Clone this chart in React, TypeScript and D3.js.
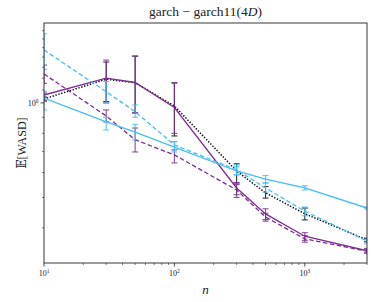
import * as d3 from "d3";

// sample sizes on the x axis
const nVals = [10, 30, 50, 100, 300, 500, 1000, 3000];

// purple solid
const purpleSolid = [1.06, 1.2, 1.162, 0.967, 0.536, 0.443, 0.376, 0.338];
const purpleSolidLo = [1.015, 1.0, 0.93, 0.8, 0.51, 0.425, 0.365, 0.333];
const purpleSolidHi = [1.076, 1.37, 1.41, 1.16, 0.557, 0.46, 0.386, 0.344];

// purple dashed
const purpleDashed = [1.237, 0.909, 0.763, 0.683, 0.528, 0.433, 0.369, 0.337];
const purpleDashedLo = [1.155, 0.87, 0.698, 0.644, 0.5, 0.42, 0.36, 0.332];
const purpleDashedHi = [1.32, 0.95, 0.832, 0.709, 0.55, 0.445, 0.378, 0.342];

// cyan solid
const cyanSolid = [1.037, 0.87, 0.807, 0.723, 0.607, 0.572, 0.536, 0.4625];
const cyanSolidLo = [0.95, 0.82, 0.763, 0.698, 0.59, 0.556, 0.528, 0.459];
const cyanSolidHi = [1.09, 0.9, 0.855, 0.753, 0.627, 0.587, 0.545, 0.466];

// cyan dashed
const cyanDashed = [1.475, 1.086, 0.938, 0.735, 0.612, 0.536, 0.452, 0.363];
const cyanDashedLo = [1.28, 1.0, 0.9, 0.709, 0.59, 0.52, 0.437, 0.356];
const cyanDashedHi = [1.66, 1.17, 0.985, 0.753, 0.635, 0.556, 0.466, 0.368];

// black dotted
const blackDotted = [1.03, 1.19, 1.16, 0.978, 0.607, 0.517, 0.4435, 0.366];
const blackDottedLo = [1.015, 1.01, 0.929, 0.785, 0.556, 0.4975, 0.424, 0.361];
const blackDottedHi = [1.045, 1.35, 1.41, 1.158, 0.64, 0.5417, 0.4625, 0.371];

const xMajor = [10, 100, 1000];
const xMinor = [20, 30, 40, 50, 60, 70, 80, 90, 200, 300, 400, 500, 600, 700, 800, 900, 2000, 3000];
const yMajor = [1];
const yMinor = [0.4, 0.5, 0.6, 0.7, 0.8, 0.9, 1.1, 1.2, 1.3, 1.4, 1.5, 1.6, 1.7];

const purple = "#7b2d8f";
const cyan = "#45bdf0";

// black goes first so the purple bars sit on top of it
const series = [
  { mean: blackDotted, lo: blackDottedLo, hi: blackDottedHi, color: "#111", dash: "1.4,1.6", width: 1.5 },
  { mean: purpleSolid, lo: purpleSolidLo, hi: purpleSolidHi, color: purple, dash: "none", width: 1.3 },
  { mean: purpleDashed, lo: purpleDashedLo, hi: purpleDashedHi, color: purple, dash: "4.5,2.5", width: 1.3 },
  { mean: cyanSolid, lo: cyanSolidLo, hi: cyanSolidHi, color: cyan, dash: "none", width: 1.3 },
  { mean: cyanDashed, lo: cyanDashedLo, hi: cyanDashedHi, color: cyan, dash: "4.5,2.5", width: 1.3 },
];

const W = 374;
const H = 302;
const left = 44;
const right = 367;
const top = 23;
const bottom = 263;
const serif = "'Liberation Serif', 'DejaVu Serif', serif";

export default function App() {
  const x = d3.scaleLog().domain([10, 3000]).range([left, right]);
  const y = d3.scaleLog().domain([0.309, 1.798]).range([bottom, top]);

  const line = d3
    .line<number>()
    .x((_, i) => x(nVals[i]))
    .y((d) => y(d));

  return (
    <svg width={W} height={H} style={{ position: "absolute", left: 0, top: 0 }}>
      <rect width={W} height={H} fill="#fff" />
      <defs>
        <clipPath id="plot">
          <rect x={left} y={top} width={right - left} height={bottom - top} />
        </clipPath>
      </defs>

      <g clipPath="url(#plot)">
        {series.map((s, si) => (
          <g key={si}>
            {nVals.map((n, i) => (
              <g key={i} stroke={s.color} strokeWidth={1.1} opacity={0.85}>
                <line x1={x(n)} x2={x(n)} y1={y(s.lo[i])} y2={y(s.hi[i])} />
                <line x1={x(n) - 3} x2={x(n) + 3} y1={y(s.lo[i])} y2={y(s.lo[i])} />
                <line x1={x(n) - 3} x2={x(n) + 3} y1={y(s.hi[i])} y2={y(s.hi[i])} />
              </g>
            ))}
            <path
              d={line(s.mean) || ""}
              fill="none"
              stroke={s.color}
              strokeWidth={s.width}
              strokeDasharray={s.dash}
            />
          </g>
        ))}
      </g>

      {/* frame */}
      <rect x={left} y={top} width={right - left} height={bottom - top} fill="none" stroke="#222" strokeWidth={0.9} />

      {/* x ticks */}
      {xMajor.map((t) => (
        <g key={t}>
          <line x1={x(t)} x2={x(t)} y1={bottom} y2={bottom + 3.5} stroke="#222" strokeWidth={0.8} />
          <text x={x(t)} y={bottom + 13} fontFamily={serif} fontSize={8} textAnchor="middle" fill="#222">
            10<tspan dy={-3} fontSize={5.5}>{Math.log10(t)}</tspan>
          </text>
        </g>
      ))}
      {xMinor.map((t) => (
        <line key={t} x1={x(t)} x2={x(t)} y1={bottom} y2={bottom + 2} stroke="#222" strokeWidth={0.6} />
      ))}

      {/* y ticks */}
      {yMajor.map((t) => (
        <g key={t}>
          <line x1={left - 3.5} x2={left} y1={y(t)} y2={y(t)} stroke="#222" strokeWidth={0.8} />
          <text x={left - 11} y={y(t) + 3} fontFamily={serif} fontSize={8} textAnchor="middle" fill="#222">
            10<tspan dy={-3} fontSize={5.5}>0</tspan>
          </text>
        </g>
      ))}
      {yMinor.map((t) => (
        <line key={t} x1={left - 2} x2={left} y1={y(t)} y2={y(t)} stroke="#222" strokeWidth={0.6} />
      ))}

      {/* labels */}
      <text x={(left + right) / 2} y={16} fontFamily={serif} fontSize={13.5} textAnchor="middle" fill="#222">
        garch − garch11(4<tspan fontStyle="italic">D</tspan>)
      </text>
      <text x={(left + right) / 2} y={294} fontFamily={serif} fontSize={13} fontStyle="italic" textAnchor="middle" fill="#222">
        n
      </text>
      <text
        transform={`translate(26,${(top + bottom) / 2}) rotate(-90)`}
        fontFamily={serif}
        fontSize={12}
        textAnchor="middle"
        fill="#222"
      >
        𝔼[WASD]
      </text>
    </svg>
  );
}
